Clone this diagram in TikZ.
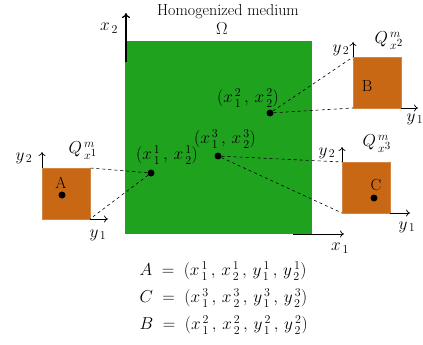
\documentclass[tikz,border=0pt]{standalone}
\usetikzlibrary{arrows.meta}
\DeclareMathSizes{16}{16}{13}{11}
\definecolor{medgreen}{RGB}{31,163,31}
\definecolor{cellorange}{RGB}{200,104,20}
\begin{document}
\begin{tikzpicture}[x=1pt,y=-1pt,
  every node/.style={font=\fontsize{16}{19}\selectfont},
  cell/.style={rectangle, fill=cellorange, draw=cellorange!80!white, inner sep=0pt, outer sep=0pt, minimum width=48pt, minimum height=51pt, anchor=north west},
  dot/.style={circle, fill=black, inner sep=0pt, minimum size=7pt},
  link/.style={dashed, line width=0.6pt},
  axis/.style={-{To[length=4pt,width=7pt]}, line width=0.7pt},
  bigaxis/.style={-{To[length=5pt,width=8pt]}, line width=1.2pt}]
\useasboundingbox (0,0) rectangle (423,345);
% medium
\node[rectangle, fill=medgreen, inner sep=0pt, outer sep=0pt, minimum width=187pt, minimum height=193pt, anchor=north west] (omega) at (125,41) {};
\node (title) at (228,12) {Homogenized medium};
\node (om) at (222,29) {$\Omega$};
% global axes
\coordinate (x2base) at (126,62);
\coordinate (x2tip) at (126,13);
\coordinate (x1base) at (293,234);
\coordinate (x1tip) at (344,234);
\draw[bigaxis] (x2base) -- (x2tip);
\draw[axis] (x1base) -- (x1tip);
\node (x2lab) at (109,28) {$x_{\,2}$};
\node (x1lab) at (340,248) {$x_{\,1}$};
% cells
\node[cell] (boxA) at (42,168) {};
\node[cell] (boxB) at (353,57) {};
\node[cell] (boxC) at (342,162) {};
% cell axes
\coordinate (a2) at (42,152);
\coordinate (a1) at (108,219);
\coordinate (b2) at (353,42);
\coordinate (b1) at (418,108);
\coordinate (c2) at (342,147);
\coordinate (c1) at (410,213);
\draw[axis] (boxA.north west) -- (a2);
\draw[axis] (boxA.south east) -- (a1);
\draw[axis] (boxB.north west) -- (b2);
\draw[axis] (boxB.south east) -- (b1);
\draw[axis] (boxC.north west) -- (c2);
\draw[axis] (boxC.south east) -- (c1);
\node (a2lab) at (24,158) {$y_{\,2}$};
\node (a1lab) at (98,235) {$y_{\,1}$};
\node (b2lab) at (341,50) {$y_{\,2}$};
\node (b1lab) at (415,119) {$y_{\,1}$};
\node (c2lab) at (327,153) {$y_{\,2}$};
\node (c1lab) at (407,227) {$y_{\,1}$};
\node (qa) at (83,151) {$Q^{\,m}_{\,x^{1}}$};
\node (qb) at (389,41) {$Q^{\,m}_{\,x^{2}}$};
\node (qc) at (377,144) {$Q^{\,m}_{\,x^{3}}$};
% cell points
\node (Alab) at (61,183) {A};
\node[dot] (da) at (62,195) {};
\node (Blab) at (367,86) {B};
\node (Clab) at (376,185) {C};
\node[dot] (dc) at (374,198) {};
% macro points
\node[dot] (p1) at (151,173) {};
\node[dot] (p2) at (270,113) {};
\node[dot] (p3) at (218,156) {};
\node (p1lab) at (167,155) {$(x^{\,1}_{\,1}\,,\,x^{\,1}_{\,2})$};
\node (p2lab) at (248,98) {$(x^{\,2}_{\,1}\,,\,x^{\,2}_{\,2})$};
\node (p3lab) at (225,139) {$(x^{\,3}_{\,1}\,,\,x^{\,3}_{\,2})$};
% links
\draw[link] (p1) -- (boxA.north east);
\draw[link] (p1) -- (boxA.south east);
\draw[link] (p2) -- (boxB.north west);
\draw[link] (p2) -- (boxB.south west);
\draw[link] (p3) -- (boxC.north west);
\draw[link] (p3) -- (boxC.south west);
% equations
\node[anchor=west] (eqA) at (136,271) {$A\;=\;(x^{\,1}_{\,1}\,,\,x^{\,1}_{\,2}\,,\,y^{\,1}_{\,1}\,,\,y^{\,1}_{\,2})$};
\node[anchor=west] (eqC) at (136,298) {$C\;=\;(x^{\,3}_{\,1}\,,\,x^{\,3}_{\,2}\,,\,y^{\,3}_{\,1}\,,\,y^{\,3}_{\,2})$};
\node[anchor=west] (eqB) at (136,325) {$B\;=\;(x^{\,2}_{\,1}\,,\,x^{\,2}_{\,2}\,,\,y^{\,2}_{\,1}\,,\,y^{\,2}_{\,2})$};
\end{tikzpicture}
\end{document}
